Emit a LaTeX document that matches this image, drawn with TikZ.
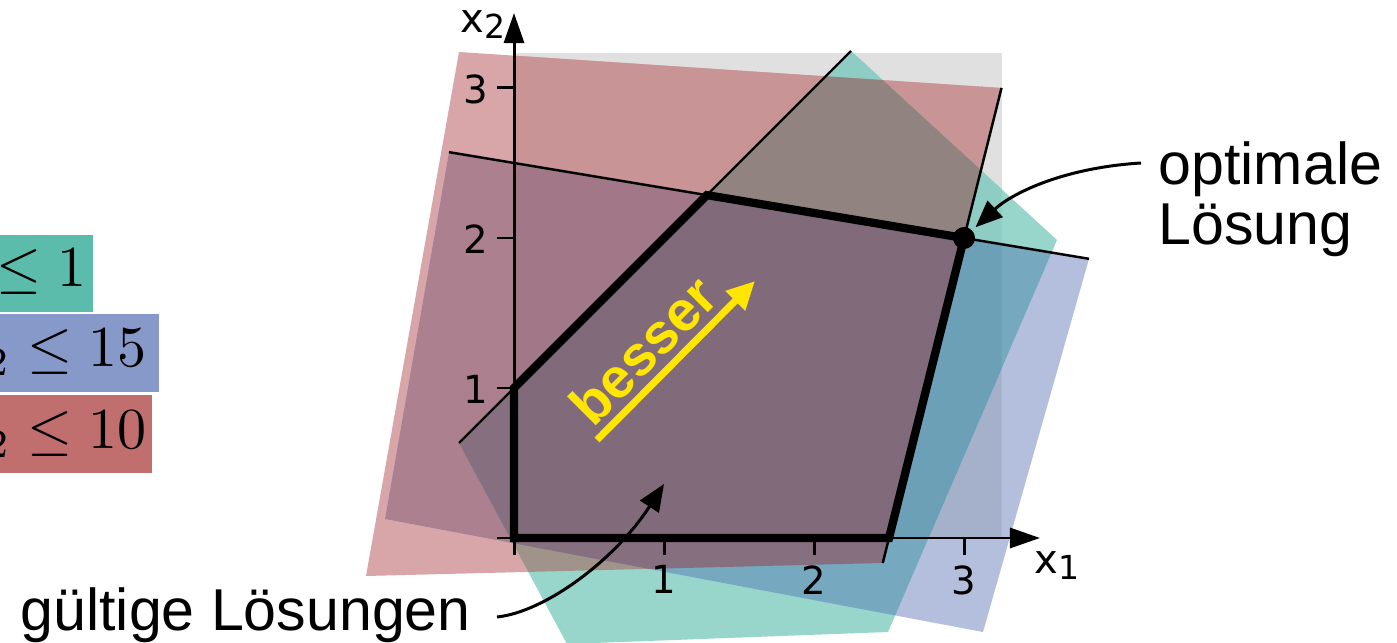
\documentclass[tikz,border=0pt]{standalone}
\usepackage[no-math]{fontspec}
\usepackage{graphicx}
\setmainfont{Liberation Sans}
\newfontfamily\dejavu{DejaVu Sans}
\usetikzlibrary{arrows.meta}
\definecolor{cGy}{RGB}{224,224,224}
\definecolor{cR}{RGB}{216,166,168}
\definecolor{cG}{RGB}{152,213,203}
\definecolor{cB}{RGB}{180,191,221}
\definecolor{cGyR}{RGB}{200,148,150}
\definecolor{cGyG}{RGB}{142,205,195}
\definecolor{cGyB}{RGB}{165,176,203}
\definecolor{cRG}{RGB}{160,148,138}
\definecolor{cRB}{RGB}{173,128,144}
\definecolor{cGB}{RGB}{118,168,192}
\definecolor{cGyRG}{RGB}{145,132,128}
\definecolor{cGyRB}{RGB}{162,120,136}
\definecolor{cGyGB}{RGB}{108,160,183}
\definecolor{cRGB}{RGB}{134,112,128}
\definecolor{cAll}{RGB}{129,107,123}
\definecolor{boxG}{RGB}{91,188,172}
\definecolor{boxB}{RGB}{135,153,200}
\definecolor{boxR}{RGB}{192,110,110}
\definecolor{yel}{RGB}{255,230,0}
\tikzset{
 pR/.style={insert path={(459,52) -- (1001.5,88) -- (882.75,563) -- (366,576) -- cycle}},
 pB/.style={insert path={(449,152.17) -- (1089,258.83) -- (983,632) -- (385,519) -- cycle}},
 pG/.style={insert path={(851,51) -- (1057,240) -- (888,632) -- (567,644) -- (459,443) -- cycle}},
 pY/.style={insert path={(514,53) rectangle (1001.5,538)}},
 thinln/.style={line width=0.7pt, black},
 axisln/.style={line width=0.85pt, black, -{Triangle[length=0.3cm,width=0.2cm]}},
 tickln/.style={line width=0.85pt, black},
 feas/.style={line width=2.35pt, black, line join=miter},
 annot/.style={line width=0.85pt, black, -{Triangle[length=0.27cm,width=0.22cm]}},
 yarrow/.style={line width=2pt, yel, -{Triangle[length=0.28cm,width=0.26cm]}},
 lbl/.style={font=\fontsize{16.8}{17}\selectfont, inner sep=0pt, anchor=base west},
 tk/.style={font=\dejavu\fontsize{11}{12}\selectfont, inner sep=0pt},
 axl/.style={font=\dejavu\fontsize{11.4}{12}\selectfont, inner sep=0pt, anchor=base west},
 mbox/.style={font=\fontsize{10}{12}\selectfont, anchor=base east, inner ysep=0pt},
}
\begin{document}
\begin{tikzpicture}[x=0.01cm,y=-0.01cm]
\useasboundingbox (0,0) rectangle (1397,643);
% single regions
\fill[cGy,pY];
\fill[cR,pR];
\fill[cG,pG];
\fill[cB,pB];
% pairs
\begin{scope}\path[clip,pY]; \fill[cGyR,pR];\end{scope}
\begin{scope}\path[clip,pY]; \fill[cGyG,pG];\end{scope}
\begin{scope}\path[clip,pY]; \fill[cGyB,pB];\end{scope}
\begin{scope}\path[clip,pR]; \fill[cRG,pG];\end{scope}
\begin{scope}\path[clip,pR]; \fill[cRB,pB];\end{scope}
\begin{scope}\path[clip,pG]; \fill[cGB,pB];\end{scope}
% triples
\begin{scope}\path[clip,pY]; \path[clip,pR]; \fill[cGyRG,pG];\end{scope}
\begin{scope}\path[clip,pY]; \path[clip,pR]; \fill[cGyRB,pB];\end{scope}
\begin{scope}\path[clip,pY]; \path[clip,pG]; \fill[cGyGB,pB];\end{scope}
\begin{scope}\path[clip,pR]; \path[clip,pG]; \fill[cRGB,pB];\end{scope}
% all four
\begin{scope}\path[clip,pY]; \path[clip,pR]; \path[clip,pG]; \fill[cAll,pB];\end{scope}

% constraint boxes (left, partly cut off)
\node[mbox,fill=boxG,inner xsep=0.064cm,text height=0.515cm,text depth=0.255cm] (c1) at (94,286.5) {\scalebox{1.65}{$-x_1+x_2\leq 1$}};
\node[mbox,fill=boxB,inner xsep=0.13cm,text height=0.527cm,text depth=0.253cm] (c2) at (160,366.7) {\scalebox{1.65}{$x_1+6x_2\leq 15$}};
\node[mbox,fill=boxR,inner xsep=0.057cm,text height=0.533cm,text depth=0.247cm] (c3) at (153,448.3) {\scalebox{1.65}{$4x_1-x_2\leq 10$}};

% constraint lines
\draw[thinln] (459,443) -- (851,51);
\draw[thinln] (449,152.17) -- (1089,258.83);
\draw[thinln] (1001.5,88) -- (882.75,563);

% axes
\coordinate (O) at (514,538);
\coordinate (x1tip) at (1040,538);
\coordinate (x2tip) at (514,13);
\draw[axisln] (O) -- (x1tip);
\draw[axisln] (O) -- (x2tip);
\foreach \i in {0,1,2,3} {
  \draw[tickln] ({514+150*\i},538) -- ({514+150*\i},555);
  \draw[tickln] (514,{538-150*\i}) -- (497,{538-150*\i});
}
\node[tk,anchor=north] (tx1) at (664,565) {1};
\node[tk,anchor=north] (tx2) at (814,565) {2};
\node[tk,anchor=north] (tx3) at (964,565) {3};
\node[tk,anchor=east] (ty1) at (489,389) {1};
\node[tk,anchor=east] (ty2) at (489,239) {2};
\node[tk,anchor=east] (ty3) at (489,89) {3};
\node[axl] (lx1) at (1034,573) {x\raisebox{-0.06cm}{\fontsize{9.4}{10}\selectfont 1}};
\node[axl] (lx2) at (460,33) {x\raisebox{-0.06cm}{\fontsize{9.4}{10}\selectfont 2}};

% feasible region boundary
\draw[feas] (514,538) -- (514,388) -- (706.9,195.1) -- (964,238) -- (889,538) -- cycle;
\node[circle,fill=black,inner sep=0pt,minimum size=0.22cm] (opt) at (964,238) {};

% better direction
\coordinate (ya) at (597,440);
\coordinate (yb) at (755,281);
\draw[yarrow] (ya) -- (yb);
\node[font=\bfseries\fontsize{16}{17}\selectfont, text=yel, rotate=45, inner sep=0pt] (besser) at (643,350) {besser};

% labels
\node[lbl] (opt1) at (1158,185) {optimale};
\node[lbl] (opt2) at (1158,245) {Lösung};
\node[lbl] (valid) at (20,630) {gültige Lösungen};
\coordinate (optfrom) at (1141,163);
\draw[annot, shorten >=0.04cm] (optfrom) .. controls (1060,168) and (1010,195) .. (opt);
\coordinate (validfrom) at (497,617);
\coordinate (validto) at (664,484);
\draw[annot] (validfrom) .. controls (545,612) and (615,560) .. (validto);
\end{tikzpicture}
\end{document}
